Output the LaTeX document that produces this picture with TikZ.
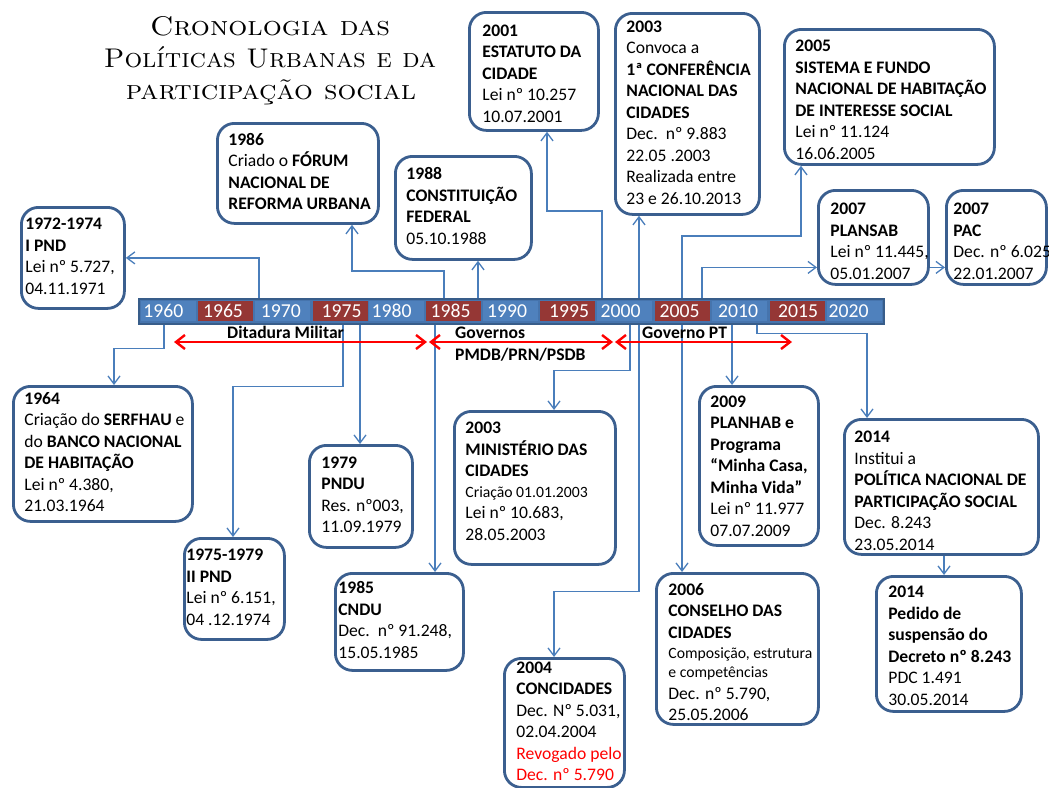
\documentclass[tikz,border=0pt]{standalone}
\usepackage{fontspec}
\usepackage{graphicx}
\setmainfont{Carlito}
\usetikzlibrary{arrows.meta}
\definecolor{boxb}{HTML}{3B5F8F}
\definecolor{connc}{HTML}{4A7EBB}
\definecolor{barf}{HTML}{4674AD}
\definecolor{barb}{HTML}{385D8A}
\definecolor{cellb}{HTML}{4F81BD}
\definecolor{cellr}{HTML}{953735}
\definecolor{erared}{HTML}{FF0000}
\newcommand\boxt[2]{\makebox[#1][l]{\begin{tabular}{@{}l@{}}#2\end{tabular}}}
\newcommand\smallln[1]{{\fontsize{15.7}{19}\selectfont #1}}
\tikzset{
  evbox/.style={draw=boxb, line width=2.8pt, fill=white, rounded corners=17pt, anchor=north west, inner ysep=0pt, font=\fontsize{17.6}{21.5}\selectfont},
  conn/.style={draw=connc, line width=1.3pt, -{Straight Barb[length=8pt,width=12pt]}},
  era/.style={draw=erared, line width=2.4pt, {Straight Barb[length=9pt,width=14pt]}-{Straight Barb[length=9pt,width=14pt]}},
  yearcell/.style={minimum width=55pt, minimum height=20pt, inner sep=0pt, text=white, font=\fontsize{19.7}{22}\selectfont},
  eralabel/.style={font=\fontsize{17.6}{20}\selectfont\bfseries, anchor=base west, inner sep=0pt},
  titleline/.style={anchor=base, inner sep=0pt, font=\fontfamily{lmr}\fontsize{27}{32}\selectfont\scshape},
}
\begin{document}
\begin{tikzpicture}[x=1pt,y=-1pt]
\useasboundingbox[fill=white] (0,0) rectangle (1049,787);
% title
\node[titleline] (title1) at (270,35) {\scalebox{1.11}[1]{Cronologia das}};
\node[titleline] (title2) at (270,67) {\scalebox{1.03}[1]{Políticas Urbanas e da}};
\node[titleline] (title3) at (271,99) {\scalebox{1.095}[1]{participação social}};
% timeline bar
\node[draw=barb, fill=barf, line width=1.5pt, anchor=north west, minimum width=745pt, minimum height=25pt, inner sep=0pt] (bar) at (138,298) {};
\foreach \yr/\cx/\dx/\col in {1960/168/-4.7/cellb,1965/225/-2/cellr,1970/282.5/-1.7/cellb,1975/340/1.7/cellr,1980/396.5/-4.8/cellb,1985/453.5/-3/cellr,1990/510/-3/cellb,1995/567.5/1.5/cellr,2000/624.5/-4/cellb,2005/682/-2.5/cellr,2010/739.5/-1.5/cellb,2015/797/1/cellr,2020/854/-5.5/cellb}
  \node[yearcell, fill=\col] (y\yr) at (\cx,311) {\makebox[0pt]{\hspace*{\dx pt}\hspace*{\dx pt}\yr}};
% boxes above
\node[evbox, minimum width=103pt, minimum height=101pt, inner xsep=4pt] (pnd1) at (20,206)
  {\boxt{95pt}{\textbf{1972-1974}\\ \textbf{I PND}\\ Lei nº 5.727,\\ 04.11.1971}};
\node[evbox, minimum width=161pt, minimum height=100pt, inner xsep=11pt] (forum) at (216,122)
  {\boxt{139pt}{\textbf{1986}\\ Criado o \textbf{FÓRUM}\\ \textbf{NACIONAL DE}\\ \textbf{REFORMA URBANA}}};
\node[evbox, minimum width=136pt, minimum height=103pt, inner xsep=11pt] (const) at (394,155)
  {\boxt{114pt}{\textbf{1988}\\ \textbf{CONSTITUIÇÃO}\\ \textbf{FEDERAL}\\ 05.10.1988}};
\node[evbox, minimum width=129pt, minimum height=118pt, inner xsep=13pt] (estatuto) at (468,11)
  {\boxt{103pt}{\textbf{2001}\\ \textbf{ESTATUTO DA}\\ \textbf{CIDADE}\\ Lei nº 10.257\\ 10.07.2001\\[-6.6pt]}};
\node[evbox, minimum width=144pt, minimum height=201pt, inner xsep=11pt] (conf) at (614,12)
  {\boxt{122pt}{\textbf{2003}\\ Convoca a\\ \textbf{1ª CONFERÊNCIA}\\ \textbf{NACIONAL DAS}\\ \textbf{CIDADES}\\ Dec.\ \ nº 9.883\\ 22.05 .2003\\ Realizada entre\\ 23 e 26.10.2013}};
\node[evbox, minimum width=210pt, minimum height=135pt, inner xsep=11pt] (snhis) at (783,28)
  {\boxt{188pt}{\textbf{2005}\\ \textbf{SISTEMA E FUNDO}\\ \textbf{NACIONAL DE HABITAÇÃO}\\ \textbf{DE INTERESSE SOCIAL}\\ Lei nº 11.124\\ 16.06.2005\\[-9pt]}};
\node[evbox, minimum width=110pt, minimum height=94pt, inner xsep=12pt] (plansab) at (817,189)
  {\boxt{86pt}{\textbf{2007}\\ \textbf{PLANSAB}\\ Lei nº 11.445,\\ 05.01.2007\\[-11pt]}};
\node[evbox, minimum width=100pt, minimum height=94pt, inner xsep=7pt] (pac) at (945,189)
  {\boxt{86pt}{\textbf{2007}\\ \textbf{PAC}\\ Dec. nº 6.025\\ 22.01.2007\\[-11pt]}};
% boxes below
\node[evbox, minimum width=179pt, minimum height=135pt, inner xsep=11pt] (serfhau) at (12,385)
  {\boxt{157pt}{\textbf{1964}\\ Criação do \textbf{SERFHAU} e\\ do \textbf{BANCO NACIONAL}\\ \textbf{DE HABITAÇÃO}\\ Lei nº 4.380,\\ 21.03.1964}};
\node[evbox, minimum width=100pt, minimum height=101pt, inner xsep=2pt] (pnd2) at (183,537)
  {\boxt{96pt}{\textbf{1975-1979}\\ \textbf{II PND}\\ Lei nº 6.151,\\ 04 .12.1974}};
\node[evbox, minimum width=103pt, minimum height=102pt, inner xsep=12pt] (pndu) at (308,444)
  {\boxt{79pt}{\textbf{1979}\\ \textbf{PNDU}\\ Res. nº003,\\ 11.09.1979}};
\node[evbox, minimum width=128pt, minimum height=97pt, inner xsep=3pt] (cndu) at (334,572)
  {\boxt{122pt}{\textbf{1985}\\ \textbf{CNDU}\\ Dec.\ \ nº 91.248,\\ 15.05.1985}};
\node[evbox, minimum width=161pt, minimum height=153pt, inner xsep=11pt] (minist) at (453,410)
  {\boxt{139pt}{\textbf{2003}\\ \textbf{MINISTÉRIO DAS}\\ \textbf{CIDADES}\\[-1pt] \smallln{Criação 01.01.2003}\\ Lei nº 10.683,\\ 28.05.2003\\[10pt]}};
\node[evbox, minimum width=120pt, minimum height=129pt, inner xsep=12pt] (concid) at (503,657)
  {\boxt{96pt}{\textbf{2004}\\ \textbf{CONCIDADES}\\ Dec. Nº 5.031,\\ 02.04.2004\\ \textcolor{erared}{Revogado pelo}\\ \textcolor{erared}{Dec. nº 5.790}}};
\node[evbox, minimum width=162pt, minimum height=151pt, inner xsep=12pt] (conselho) at (655,572)
  {\boxt{138pt}{\textbf{2006}\\ \textbf{CONSELHO DAS}\\ \textbf{CIDADES}\\[-1.5pt] \smallln{Composição, estrutura}\\[-2pt] \smallln{e competências}\\ Dec. nº 5.790,\\ 25.05.2006\\[-10pt]}};
\node[evbox, minimum width=119pt, minimum height=159pt, inner xsep=11pt] (planhab) at (698,385)
  {\boxt{97pt}{\textbf{2009}\\ \textbf{PLANHAB e}\\ \textbf{Programa}\\ \textbf{“Minha Casa,}\\ \textbf{Minha Vida”}\\ Lei nº 11.977\\ 07.07.2009\\[-2.6pt]}};
\node[evbox, minimum width=194pt, minimum height=135pt, inner xsep=10pt] (politica) at (843,418)
  {\boxt{174pt}{\textbf{2014}\\ Institui a\\ \textbf{POLÍTICA NACIONAL DE}\\ \textbf{PARTICIPAÇÃO SOCIAL}\\ Dec. 8.243\\ 23.05.2014\\[-11pt]}};
\node[evbox, minimum width=145pt, minimum height=135pt, inner xsep=12pt] (pedido) at (875,575)
  {\boxt{121pt}{\textbf{2014}\\ \textbf{Pedido de}\\ \textbf{suspensão do}\\ \textbf{Decreto nº 8.243}\\ PDC 1.491\\ 30.05.2014\\[-7pt]}};
% connectors above the bar
\draw[conn] ([xshift=121pt]bar.north west) |- (pnd1.east);
\draw[conn] ([xshift=306pt]bar.north west) -- ++(0,-27) -| ([xshift=136pt]forum.south west);
\draw[conn] ([xshift=340pt]bar.north west) -- ([xshift=84pt]const.south west);
\draw[conn] ([xshift=464pt]bar.north west) -- ++(0,-87) -| ([xshift=79pt]estatuto.south west);
\draw[conn] ([xshift=501pt]bar.north west) -- ([xshift=25pt]conf.south west);
\draw[conn] ([xshift=544pt]bar.north west) -- ++(0,-62) -| ([xshift=18pt]snhis.south west);
\draw[conn] ([xshift=564pt]bar.north west) |- ([yshift=-30pt]plansab.west);
\draw[conn] ([yshift=-30pt]plansab.east) -- ([yshift=-30pt]pac.west);
% connectors below the bar
\draw[conn] ([xshift=26pt]bar.south west) -- ++(0,24) -| ([xshift=102pt]serfhau.north west);
\draw[conn] ([xshift=205pt]bar.south west) -- ++(0,62) -| ([xshift=50pt]pnd2.north west);
\draw[conn] ([xshift=222pt]bar.south west) -- ([xshift=52pt]pndu.north west);
\draw[conn] ([xshift=297pt]bar.south west) -- ([xshift=101pt]cndu.north west);
\draw[conn] ([xshift=492pt]bar.south west) -- ++(0,46) -| ([xshift=101pt]minist.north west);
\draw[conn] ([xshift=501pt]bar.south west) -- ++(0,267) -| ([xshift=51pt]concid.north west);
\draw[conn] ([xshift=544pt]bar.south west) -- ([xshift=27pt]conselho.north west);
\draw[conn] ([xshift=594pt]bar.south west) -- ([xshift=34pt]planhab.north west);
\draw[conn] ([xshift=619pt]bar.south west) -- ++(0,9) -| ([xshift=24pt]politica.north west);
\draw[conn] ([xshift=101pt]politica.south west) -- ([xshift=69pt]pedido.north west);
% era arrows and labels
\coordinate (dm1) at (174,342);
\coordinate (dm2) at (427,342);
\coordinate (gv1) at (429,342);
\coordinate (gv2) at (613,342);
\coordinate (pt1) at (615,342);
\coordinate (pt2) at (792,342);
\draw[era] (dm1) -- (dm2);
\draw[era] (gv1) -- (gv2);
\draw[era] (pt1) -- (pt2);
\node[eralabel] (ldm) at (227,338) {Ditadura Militar};
\node[eralabel] (lgov) at (455,338) {Governos};
\node[eralabel] (lgov2) at (455,360) {PMDB/PRN/PSDB};
\node[eralabel] (lpt) at (642,338) {Governo PT};
\end{tikzpicture}
\end{document}
